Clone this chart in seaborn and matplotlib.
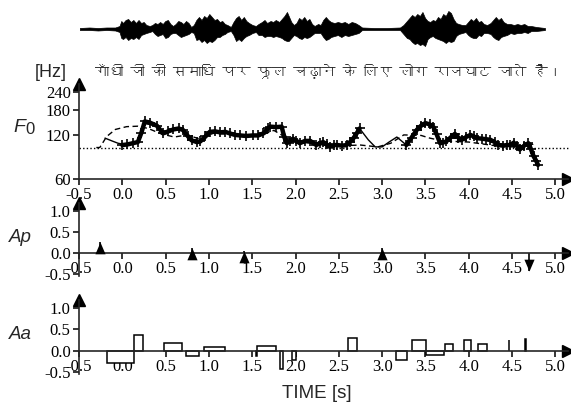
import numpy as np
import pandas as pd
import matplotlib
matplotlib.use("Agg")
import matplotlib.pyplot as plt
from matplotlib.path import Path
from matplotlib.ticker import NullLocator
from matplotlib import font_manager
from matplotlib.ft2font import FT2Font
import seaborn as sns

# ---------------- data ----------------
# speech waveform envelope: time (s), upper and lower excursion (display units)
wave_t = [
    -0.51, -0.40, -0.30, -0.20, -0.10, -0.05, -0.03, -0.01, 0.02, 0.05,
    0.08, 0.11, 0.14, 0.17, 0.20, 0.23, 0.26, 0.30, 0.33, 0.36,
    0.39, 0.42, 0.45, 0.48, 0.51, 0.54, 0.57, 0.60, 0.63, 0.66,
    0.69, 0.72, 0.75, 0.78, 0.81, 0.84, 0.87, 0.90, 0.93, 0.96,
    0.99, 1.02, 1.05, 1.08, 1.11, 1.14, 1.17, 1.20, 1.24, 1.27,
    1.30, 1.33, 1.36, 1.39, 1.42, 1.45, 1.49, 1.53, 1.56, 1.60,
    1.63, 1.66, 1.70, 1.73, 1.76, 1.80, 1.83, 1.86, 1.89, 1.91,
    1.94, 1.97, 2.00, 2.03, 2.06, 2.09, 2.12, 2.15, 2.18, 2.21,
    2.25, 2.28, 2.31, 2.34, 2.37, 2.40, 2.44, 2.48, 2.52, 2.56,
    2.60, 2.64, 2.68, 2.72, 2.76, 2.90, 3.05, 3.20, 3.24, 3.28,
    3.31, 3.34, 3.37, 3.40, 3.43, 3.46, 3.49, 3.52, 3.55, 3.58,
    3.61, 3.64, 3.67, 3.70, 3.73, 3.76, 3.79, 3.82, 3.85, 3.88,
    3.92, 3.96, 3.99, 4.02, 4.05, 4.08, 4.11, 4.14, 4.17, 4.21,
    4.25, 4.28, 4.31, 4.34, 4.37, 4.40, 4.44, 4.48, 4.52, 4.56,
    4.60, 4.64, 4.68, 4.72, 4.78, 4.88]
wave_top = [
    1, 1.5, 1, 1.5, 1.5, 3, 8, 6, 9, 10,
    7, 9, 6, 9, 6, 7, 4, 3, 4, 6,
    5, 7, 5, 8, 9, 5, 3, 5, 8, 7,
    5, 8, 6, 2, 4, 9, 12, 9, 13, 11,
    15, 12, 9, 10, 7, 8, 5, 4, 2, 7,
    11, 13, 9, 12, 8, 6, 4, 3, 5, 7,
    9, 6, 8, 7, 9, 7, 10, 13, 17, 13,
    7, 4, 6, 11, 9, 12, 8, 10, 5, 3,
    5, 4, 9, 12, 9, 7, 6, 7, 6, 7,
    5, 7, 6, 4, 1.5, 1, 1, 1.5, 4, 8,
    11, 14, 12, 15, 13, 17, 11, 8, 7, 9,
    8, 12, 10, 15, 13, 18, 16, 10, 6, 5,
    4, 4, 7, 10, 8, 11, 7, 8, 5, 4,
    6, 9, 12, 9, 11, 7, 5, 5, 4, 5,
    4, 5, 3, 3, 2, 1]
wave_bot = [
    1, 1, 1.5, 1, 1.5, 3, 9, 10, 8, 11,
    9, 10, 8, 10, 6, 5, 4, 3, 2, 5,
    7, 6, 5, 9, 8, 5, 4, 4, 6, 8,
    7, 6, 5, 3, 4, 11, 10, 13, 11, 14,
    12, 13, 11, 8, 8, 6, 5, 3, 2, 6,
    12, 10, 12, 9, 7, 6, 4, 3, 6, 6,
    8, 7, 7, 8, 7, 8, 9, 11, 12, 12,
    9, 6, 7, 9, 10, 8, 9, 8, 6, 4,
    4, 4, 8, 11, 10, 8, 7, 6, 8, 6,
    7, 6, 5, 4, 1, 1, 1, 1, 5, 9,
    10, 13, 15, 14, 16, 15, 17, 10, 8, 7,
    9, 10, 11, 12, 14, 12, 13, 12, 7, 5,
    4, 3, 6, 8, 9, 9, 6, 7, 4, 4,
    5, 8, 10, 11, 8, 7, 6, 4, 5, 4,
    4, 3, 4, 2, 2, 1]

sentence = "गाँधी जी की समाधि पर फूल चढ़ाने के लिए लोग राजघाट जाते हैं।"

# extracted F0 (two voiced stretches)
obs1_t = [0.00, 0.06, 0.12, 0.18, 0.22, 0.26, 0.32, 0.40, 0.47, 0.53,
          0.59, 0.65, 0.70, 0.76, 0.80, 0.86, 0.90, 0.96, 1.01, 1.07,
          1.13, 1.19, 1.24, 1.30, 1.36, 1.43, 1.51, 1.57, 1.63, 1.68,
          1.71, 1.78, 1.84, 1.87, 1.90, 1.94, 1.97, 2.01, 2.05, 2.11,
          2.17, 2.24, 2.28, 2.32, 2.36, 2.40, 2.44, 2.48, 2.54, 2.59,
          2.63, 2.67, 2.71, 2.74]
obs1_f0 = [103, 104, 106, 108, 125, 150, 147, 140, 124, 128,
           132, 134, 131, 118, 111, 108, 109, 118, 127, 128,
           126, 127, 124, 121, 120, 119, 120, 120, 124, 134,
           138, 137, 138, 117, 106, 110, 114, 110, 106, 110,
           110, 103, 106, 108, 104, 100, 103, 103, 102, 103,
           108, 115, 125, 134]
obs2_t = [3.28, 3.34, 3.40, 3.45, 3.50, 3.55, 3.59, 3.63, 3.67, 3.70,
          3.74, 3.79, 3.84, 3.88, 3.92, 3.97, 4.02, 4.06, 4.09, 4.15,
          4.20, 4.25, 4.30, 4.34, 4.40, 4.44, 4.48, 4.52, 4.56, 4.59,
          4.64, 4.69, 4.72, 4.75, 4.78, 4.80]
obs2_f0 = [103, 116, 131, 140, 146, 143, 138, 122, 106, 107,
           109, 116, 123, 116, 112, 117, 121, 118, 115, 114,
           113, 112, 108, 103, 102, 103, 103, 107, 101, 96,
           102, 106, 96, 86, 80, 75]

# model F0 contour
model_t = [-0.20, -0.12, -0.05, 0.02, 0.10, 0.18, 0.26, 0.40, 0.50, 0.60,
           0.70, 0.80, 0.90, 1.00, 1.20, 1.40, 1.60, 1.72, 1.84, 1.92,
           2.05, 2.20, 2.40, 2.60, 2.74, 2.84, 2.92, 3.00, 3.08, 3.17,
           3.28, 3.40, 3.50, 3.60, 3.67, 3.75, 3.84, 3.92, 4.02, 4.15,
           4.30, 4.45, 4.55, 4.62, 4.69, 4.74]
model_f0 = [115, 110, 106, 104, 106, 108, 145, 140, 123, 131,
            132, 112, 108, 126, 125, 119, 122, 138, 136, 108,
            108, 106, 101, 103, 134, 112, 100, 100, 108, 117,
            103, 131, 145, 137, 107, 110, 124, 112, 120, 113,
            107, 103, 104, 101, 106, 104]

# phrase-level contour (dashed)
phr_t = [-0.30, -0.26, -0.18, -0.08, 0.05, 0.18, 0.30, 0.45, 0.60, 0.75,
         0.88, 1.05, 1.25, 1.45, 1.60, 1.75, 1.88, 2.10, 2.30, 2.55,
         2.75, 2.95, 3.10, 3.25, 3.45, 3.55, 3.70, 3.85, 4.00, 4.20,
         4.35, 4.50, 4.65]
phr_f0 = [99, 99, 118, 132, 138, 139, 134, 123, 117, 121,
          114, 124, 122, 118, 120, 130, 117, 108, 104, 102,
          103, 100, 106, 121, 120, 115, 110, 109, 108, 104,
          101, 100, 102]

base_f0 = 99  # Fb

# phrase commands
ap_t = [-0.26, 0.80, 1.40, 3.00, 4.70]
ap_val = [0.25, 0.11, 0.055, 0.13, -0.42]

# accent commands
aa_on = [-0.18, 0.14, 0.48, 0.74, 0.94, 1.54, 1.56, 1.82, 1.96, 2.61,
         3.16, 3.34, 3.51, 3.73, 3.94, 4.11, 4.46, 4.65]
aa_off = [0.14, 0.24, 0.69, 0.89, 1.19, 1.56, 1.78, 1.85, 2.00, 2.71,
          3.29, 3.51, 3.71, 3.82, 4.03, 4.21, 4.47, 4.66]
aa_val = [-0.28, 0.37, 0.18, -0.12, 0.09, -0.12, 0.12, -0.42, -0.20, 0.31,
          -0.21, 0.26, -0.09, 0.17, 0.26, 0.17, 0.26, 0.29]

time_ticks = [-0.5, 0.0, 0.5, 1.0, 1.5, 2.0, 2.5, 3.0, 3.5, 4.0, 4.5, 5.0]
f0_ticks = [60, 120, 180, 240]
cmd_ticks = [-0.5, 0.0, 0.5, 1.0]

# ---------------- style ----------------
sns.set_style("white")
SERIF = ["Liberation Serif", "DejaVu Serif"]
SANS = ["Liberation Sans", "DejaVu Sans"]
plt.rcParams["font.family"] = SERIF
plt.rcParams["axes.linewidth"] = 1.2


def devanagari_family(text):
    codes = {ord(c) for c in text if ord(c) >= 0x0900}
    best, best_hits = None, 0
    for entry in font_manager.fontManager.ttflist:
        try:
            cmap = FT2Font(entry.fname).get_charmap()
        except Exception:
            continue
        hits = sum(1 for c in codes if c in cmap)
        if hits > best_hits:
            best, best_hits = entry.name, hits
    return best


W, H = 571, 403
fig = plt.figure(figsize=(W / 100, H / 100), dpi=100)


def box(top_px, bottom_px):
    left, right = 79, 568.3
    return [left / W, 1 - bottom_px / H, (right - left) / W, (bottom_px - top_px) / H]


XLIM = (-0.5, 5.15)
TICK_FONT = 12

ax_w = fig.add_axes(box(5, 53))
ax_f = fig.add_axes(box(84, 179))
ax_p = fig.add_axes(box(203, 276))
ax_a = fig.add_axes(box(300, 374))

# waveform
ax_w.fill_between(wave_t, [-b for b in wave_bot], wave_top, color="black",
                  lw=0.5, edgecolor="black")
ax_w.set_xlim(-0.52, XLIM[1])
ax_w.set_ylim(-24, 24)
ax_w.axis("off")

# F0 panel
seg_df = pd.DataFrame({
    "t": obs1_t + obs2_t,
    "f0": obs1_f0 + obs2_f0,
    "seg": [1] * len(obs1_t) + [2] * len(obs2_t),
})
ax_f.axhline(base_f0, color="black", lw=1.0, ls=(0, (1, 1.6)), clip_on=False)
sns.lineplot(x=phr_t, y=phr_f0, ax=ax_f, color="black", lw=1.0,
             linestyle=(0, (4, 2.5)), estimator=None, sort=False)
sns.lineplot(x=model_t, y=model_f0, ax=ax_f, color="black", lw=1.0,
             estimator=None, sort=False)
sns.lineplot(data=seg_df, x="t", y="f0", units="seg", estimator=None, ax=ax_f,
             color="black", lw=3.2, sort=False)
sns.scatterplot(data=seg_df, x="t", y="f0", ax=ax_f, marker="+", s=45,
                color="black", linewidth=1.2)
ax_f.set_yscale("log")
ax_f.set_ylim(60, 272)
ax_f.set_yticks(f0_ticks)
ax_f.set_yticklabels([str(v) for v in f0_ticks])
ax_f.yaxis.set_minor_locator(NullLocator())
ax_f.set_xlim(*XLIM)
ax_f.set_xticks(time_ticks)
ax_f.set_xticklabels([f"{v:.1f}" for v in time_ticks])
for s in ("top", "right"):
    ax_f.spines[s].set_visible(False)

# phrase command panel
ax_p.vlines(ap_t, 0, ap_val, color="black", lw=1.2)
tri_up = Path([(0, 0), (-0.43, -1), (0.43, -1), (0, 0)],
              [Path.MOVETO, Path.LINETO, Path.LINETO, Path.CLOSEPOLY])
tri_dn = Path([(0, 0), (-0.43, 1), (0.43, 1), (0, 0)],
              [Path.MOVETO, Path.LINETO, Path.LINETO, Path.CLOSEPOLY])
for t, v in zip(ap_t, ap_val):
    ax_p.scatter([t], [v], marker=tri_up if v > 0 else tri_dn, s=290,
                 color="black", linewidths=0, zorder=3)

# accent command panel
for on, off, v in zip(aa_on, aa_off, aa_val):
    ax_a.bar(on, v, width=off - on, align="edge", facecolor="white",
             edgecolor="black", lw=1.1, zorder=2)

for ax, lo, hi in ((ax_p, -0.548, 1.19), (ax_a, -0.535, 1.186)):
    ax.set_ylim(lo, hi)
    ax.set_xlim(*XLIM)
    ax.set_yticks(cmd_ticks)
    ax.set_yticklabels([f"{v:.1f}" for v in cmd_ticks])
    ax.set_xticks(time_ticks)
    ax.set_xticklabels([f"{v:.1f}" for v in time_ticks])
    ax.spines["bottom"].set_position(("data", 0))
    ax.spines["top"].set_visible(False)
    ax.spines["right"].set_visible(False)
    ax.plot(1, 0, ">", color="black", ms=8, transform=ax.get_yaxis_transform(),
            clip_on=False)
    ax.plot(0, 1, "^", color="black", ms=8, transform=ax.transAxes, clip_on=False)

ax_f.plot(1, 0, ">", color="black", ms=8, transform=ax_f.transAxes, clip_on=False)
ax_f.plot(0, 1, "^", color="black", ms=8, transform=ax_f.transAxes, clip_on=False)

for ax in (ax_f, ax_p, ax_a):
    ax.set_xlabel("")
    ax.set_ylabel("")
    ax.tick_params(axis="both", which="major", direction="out", length=4,
                   width=1.1, labelsize=TICK_FONT, pad=2, colors="black",
                   bottom=True, left=True)
    for lbl in ax.get_xticklabels() + ax.get_yticklabels():
        lbl.set_fontfamily(SERIF)
    ax.patch.set_visible(False)

# labels
fig.text(13 / W, 1 - 132 / H, "F", family=SANS, style="italic", fontsize=14)
fig.text(25.5 / W, 1 - 134 / H, "0", family=SANS, fontsize=12)
fig.text(9 / W, 1 - 242 / H, "Ap", family=SANS, style="italic", fontsize=13.5)
fig.text(9 / W, 1 - 339 / H, "Aa", family=SANS, style="italic", fontsize=13.5)
fig.text(282 / W, 1 - 398 / H, "TIME [s]", family=SANS, fontsize=13.5)
fig.text(35 / W, 1 - 77 / H, "[Hz]", family=SANS, fontsize=13)

hindi = devanagari_family(sentence)
hindi_fam = [hindi, "DejaVu Sans"] if hindi else ["DejaVu Sans"]
line_txt = fig.text(95 / W, 1 - 71 / H, sentence, family=hindi_fam, fontsize=13,
                    ha="left", va="center")
# fit the sentence between x = 95 px and x = 560 px
renderer = fig.canvas.get_renderer()
width_px = line_txt.get_window_extent(renderer).width
line_txt.set_fontsize(13 * 465 / width_px)

fig.savefig("out.png", dpi=100)
